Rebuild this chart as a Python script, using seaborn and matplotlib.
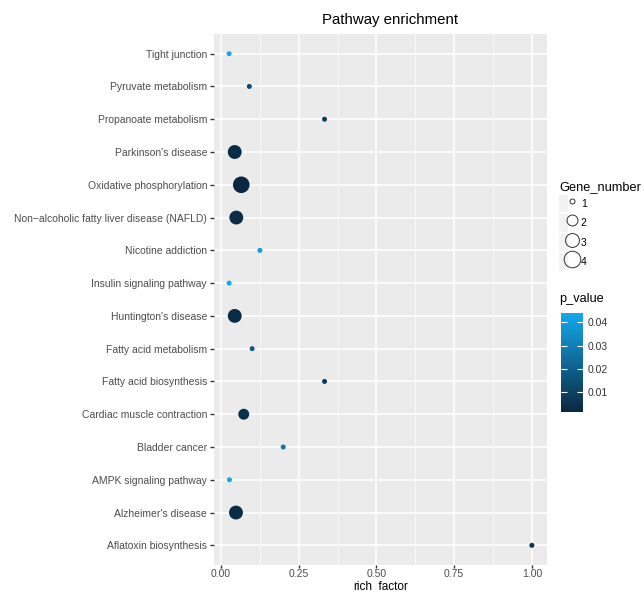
import numpy as np
import pandas as pd
import matplotlib
matplotlib.use("Agg")
import matplotlib.pyplot as plt
import seaborn as sns
from matplotlib.colors import LinearSegmentedColormap, Normalize
from matplotlib.cm import ScalarMappable
from matplotlib.lines import Line2D
from matplotlib.patches import Rectangle
from matplotlib.legend_handler import HandlerTuple

# pathways listed bottom -> top (as on the y axis)
pathways = ["Aflatoxin biosynthesis", "Alzheimer's disease", "AMPK signaling pathway",
            "Bladder cancer", "Cardiac muscle contraction", "Fatty acid biosynthesis",
            "Fatty acid metabolism", "Huntington's disease", "Insulin signaling pathway",
            "Nicotine addiction", "Non\u2212alcoholic fatty liver disease (NAFLD)",
            "Oxidative phosphorylation", "Parkinson's disease", "Propanoate metabolism",
            "Pyruvate metabolism", "Tight junction"]
rich_factor = [1.0, 0.048, 0.027, 0.2, 0.073, 0.333, 0.1, 0.044, 0.026, 0.125,
               0.049, 0.065, 0.044, 0.333, 0.091, 0.026]
gene_number = [1, 3, 1, 1, 2, 1, 1, 3, 1, 1, 3, 4, 3, 1, 1, 1]
p_value = [0.005, 0.003, 0.043, 0.027, 0.004, 0.008, 0.018, 0.003, 0.044, 0.040,
           0.003, 0.0015, 0.003, 0.008, 0.013, 0.0438]

df = pd.DataFrame({"pathway": pathways, "rich_factor": rich_factor,
                   "gene_number": gene_number, "p_value": p_value})

plt.rcParams["font.family"] = ["Liberation Sans", "DejaVu Sans"]

cmap = LinearSegmentedColormap.from_list("pv", ["#0b2740", "#14a9ec"])
norm = Normalize(vmin=df["p_value"].min(), vmax=df["p_value"].max())
size_map = {1: 13, 2: 62, 3: 100, 4: 143}

fig = plt.figure(figsize=(6.44, 5.92), dpi=100)
ax = fig.add_axes([214 / 644, 1 - 565 / 592, (547 - 214) / 644, (565 - 34) / 592])

sns.scatterplot(data=df, x="rich_factor", y="pathway", hue="p_value", palette=cmap,
                hue_norm=norm, size="gene_number", sizes=size_map, linewidth=0,
                legend=False, ax=ax, zorder=3)

# panel styling (ggplot grey)
ax.set_facecolor("#EBEBEB")
for s in ax.spines.values():
    s.set_visible(False)
lo, hi = min(rich_factor), max(rich_factor)
pad = 0.05 * (hi - lo)
ax.set_xlim(lo - pad, hi + pad)
ax.set_ylim(-0.6, len(pathways) - 0.4)
ax.set_xticks([0, 0.25, 0.5, 0.75, 1.0])
ax.set_xticklabels(["0.00", "0.25", "0.50", "0.75", "1.00"])
ax.set_xticks([0.125, 0.375, 0.625, 0.875], minor=True)
ax.grid(True, which="major", color="white", lw=1.1)
ax.grid(True, which="minor", axis="x", color="white", lw=0.5)
ax.set_axisbelow(True)
ax.tick_params(which="major", length=3, width=1, color="#333333",
               labelcolor="#4D4D4D", labelsize=7.5, pad=2)
ax.tick_params(axis="x", which="major", length=2.5, pad=0.5)
ax.tick_params(which="minor", length=0)
ax.set_ylabel("")
ax.set_xlabel("rich_factor", fontsize=8.5, color="black")
ax.xaxis.set_label_coords(0.5, -27 / 531)
ax.xaxis.label.set_va("bottom")

fig.text(390 / 644, 1 - 20 / 592, "Pathway enrichment", fontsize=10.8,
         ha="center", va="center")

# colour bar for p_value
cax = fig.add_axes([561 / 644, 1 - 412 / 592, 22 / 644, 99 / 592])
cb = fig.colorbar(ScalarMappable(norm=norm, cmap=cmap), cax=cax)
cb.set_ticks([0.01, 0.02, 0.03, 0.04])
cb.outline.set_visible(False)
cax.tick_params(length=4, width=0.8, color="white", direction="in",
                left=True, right=True, labelsize=7.5, labelcolor="#333333", pad=3)
fig.text(559 / 644, 1 - 299 / 592, "p_value", fontsize=9.2, va="center")

# size legend for Gene_number
handles = []
for n in [1, 2, 3, 4]:
    key = Rectangle((0, 0), 1, 1, fc="#F2F2F2", ec="none")
    dot = Line2D([], [], marker="o", ls="", mfc="none", mec="#333333",
                 mew=0.7, ms=np.sqrt(size_map[n]))
    handles.append((key, dot))
leg = fig.legend(handles, ["1", "2", "3", "4"], title="Gene_number",
                 loc="upper left", bbox_to_anchor=(559 / 644, 1 - 181 / 592),
                 frameon=False, handler_map={tuple: HandlerTuple(ndivide=None)},
                 handlelength=1.7, handleheight=2.2, handletextpad=0.4,
                 labelspacing=0.18, fontsize=7.5, title_fontsize=9.2,
                 borderaxespad=0, borderpad=0)
leg._legend_box.align = "left"

fig.savefig("out.png", dpi=100)
